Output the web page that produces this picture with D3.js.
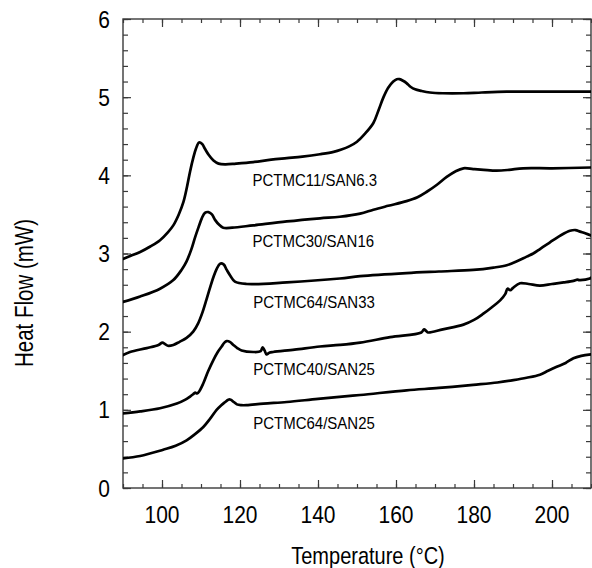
<!DOCTYPE html>
<html>
<head>
<meta charset="utf-8">
<script src="https://cdn.jsdelivr.net/npm/d3@7"></script>
<style>
  html, body { margin: 0; padding: 0; background: #fff; }
  svg { display: block; }
  text { font-family: "Liberation Sans", Arial, Helvetica, sans-serif; fill: #000; }
</style>
</head>
<body>
<svg id="chart" width="592" height="568"></svg>
<script>
// DSC heating traces: temperature (°C) and heat flow (mW), offset vertically per blend
const tA = [90, 92, 94.4, 97, 99.5, 101.5, 102.9, 104.3, 105.5, 106.4, 107.2, 108, 108.7, 109.5, 110.3, 111, 112, 113.2, 114.5, 116.2, 119, 123.4, 128, 132, 136, 140.5, 144, 146, 148, 150, 152, 154.2, 155.5, 156.8, 158, 159.3, 160.2, 160.9, 161.8, 162.7, 163.8, 164.9, 166.5, 168.7, 172, 177.3, 182, 188.4, 195, 202, 209.7, 210];
const hfA = [2.93, 2.97, 3.02, 3.09, 3.17, 3.27, 3.36, 3.50, 3.66, 3.85, 4.05, 4.22, 4.34, 4.42, 4.40, 4.34, 4.26, 4.19, 4.15, 4.14, 4.15, 4.17, 4.20, 4.22, 4.24, 4.27, 4.30, 4.33, 4.37, 4.43, 4.53, 4.67, 4.83, 5.00, 5.12, 5.20, 5.23, 5.23, 5.21, 5.18, 5.13, 5.10, 5.08, 5.06, 5.05, 5.05, 5.06, 5.07, 5.07, 5.07, 5.07, 5.07];

const tB = [90, 94.4, 99.5, 102.9, 105, 106.3, 107.5, 108.5, 109.4, 110.2, 111, 111.9, 112.8, 113.6, 114.6, 115.7, 118, 123.4, 132, 140.5, 145.6, 150.8, 154.2, 158, 162.7, 165.5, 167.9, 170.5, 173, 175.2, 177.3, 179.8, 182.5, 185.8, 189, 192.6, 200, 210];
const hfB = [2.38, 2.45, 2.55, 2.66, 2.79, 2.90, 3.05, 3.21, 3.34, 3.45, 3.52, 3.53, 3.50, 3.43, 3.37, 3.33, 3.33, 3.36, 3.41, 3.45, 3.47, 3.51, 3.56, 3.61, 3.67, 3.72, 3.79, 3.88, 3.98, 4.05, 4.09, 4.08, 4.07, 4.06, 4.07, 4.09, 4.09, 4.10];

const tC = [90, 91.8, 96.1, 99.1, 100.1, 100.8, 101.5, 102.9, 104.5, 106.3, 108, 109.3, 110.4, 111.4, 112.3, 113.2, 114, 114.9, 115.8, 116.6, 117.6, 118.7, 121.7, 132, 145.6, 150.8, 162.7, 171, 179.8, 185, 188.4, 191, 193.5, 195.2, 197, 198.8, 200.3, 202.5, 204.6, 206, 207.2, 208.5, 210];
const hfC = [1.70, 1.74, 1.79, 1.83, 1.86, 1.84, 1.82, 1.83, 1.87, 1.92, 2.00, 2.11, 2.25, 2.41, 2.56, 2.70, 2.80, 2.87, 2.86, 2.79, 2.71, 2.64, 2.61, 2.63, 2.68, 2.71, 2.75, 2.77, 2.79, 2.82, 2.85, 2.90, 2.96, 3.00, 3.06, 3.12, 3.17, 3.24, 3.29, 3.30, 3.28, 3.26, 3.23];

const tD = [90, 94.4, 99.5, 103.8, 106, 107.2, 108, 108.5, 109, 109.6, 110.6, 111.8, 113.2, 114.3, 115.3, 116, 116.6, 117.4, 118.3, 119.3, 120.4, 123.4, 125.3, 125.8, 126.3, 126.8, 127.5, 128.5, 134, 140.5, 145.6, 150.8, 158.5, 166.5, 167.2, 167.7, 168.2, 172, 177.3, 180, 182.4, 184.5, 186.7, 188, 188.6, 189.3, 190, 191.8, 194, 196.9, 200, 203, 205.5, 206.5, 207, 209.7, 210];
const hfD = [0.955, 0.98, 1.02, 1.08, 1.13, 1.17, 1.20, 1.22, 1.21, 1.24, 1.34, 1.49, 1.64, 1.74, 1.81, 1.86, 1.88, 1.87, 1.83, 1.79, 1.76, 1.74, 1.75, 1.80, 1.76, 1.71, 1.73, 1.74, 1.77, 1.81, 1.83, 1.86, 1.93, 1.99, 2.03, 2.01, 1.99, 2.03, 2.09, 2.15, 2.23, 2.31, 2.40, 2.48, 2.55, 2.53, 2.56, 2.62, 2.61, 2.59, 2.61, 2.63, 2.65, 2.665, 2.66, 2.68, 2.69];

const tE = [90, 94.4, 100.3, 103.5, 106.3, 108.5, 110.6, 112.4, 114, 115.2, 116.2, 117, 117.6, 118.4, 119.2, 120.3, 121.7, 126, 132, 140, 150.8, 162.7, 171, 179.8, 186, 190.1, 193.5, 196.9, 199, 201.2, 203.5, 205.5, 207.5, 210];
const hfE = [0.38, 0.41, 0.49, 0.54, 0.61, 0.69, 0.78, 0.89, 1.00, 1.06, 1.10, 1.13, 1.13, 1.10, 1.07, 1.06, 1.06, 1.08, 1.10, 1.14, 1.19, 1.25, 1.28, 1.32, 1.35, 1.38, 1.41, 1.45, 1.50, 1.55, 1.60, 1.66, 1.69, 1.71];

const seriesNames = ["PCTMC11/SAN6.3", "PCTMC30/SAN16", "PCTMC64/SAN33", "PCTMC40/SAN25", "PCTMC64/SAN25"];
const seriesT = [tA, tB, tC, tD, tE];
const seriesHF = [hfA, hfB, hfC, hfD, hfE];
// label anchor for each trace, in data units (temperature, heat flow)
const labelT = [123.2, 123.2, 123.4, 123.4, 123.4];
const labelHF = [3.86, 3.08, 2.30, 1.45, 0.76];

const xTicks = [100, 120, 140, 160, 180, 200];
const yTicks = [0, 1, 2, 3, 4, 5, 6];
const xMinor = d3.range(90, 210.1, 5);
const yMinor = d3.range(0, 6.01, 0.2);

const svg = d3.select("#chart");
const plotL = 123, plotR = 591, plotT = 19, plotB = 488;

const x = d3.scaleLinear().domain([90, 210]).range([plotL, plotR]);
const y = d3.scaleLinear().domain([0, 6]).range([plotB, plotT]);

const axisColor = "#3a3a3a";

// inward ticks on all four sides
function ticks(axisGen, transform, vals, size) {
  const g = svg.append("g").attr("transform", transform)
    .call(axisGen.tickValues(vals).tickSize(size).tickFormat(""));
  g.select(".domain").remove();
  g.selectAll(".tick line").attr("stroke", axisColor).attr("stroke-width", 1.2);
  return g;
}
ticks(d3.axisBottom(x), `translate(0,${plotB})`, xMinor, -4);
ticks(d3.axisBottom(x), `translate(0,${plotB})`, xTicks, -8);
ticks(d3.axisTop(x), `translate(0,${plotT})`, xMinor, -4);
ticks(d3.axisTop(x), `translate(0,${plotT})`, xTicks, -8);
ticks(d3.axisLeft(y), `translate(${plotL},0)`, yMinor, -5);
ticks(d3.axisLeft(y), `translate(${plotL},0)`, yTicks, -8);
ticks(d3.axisRight(y), `translate(${plotR},0)`, yMinor, -5);
ticks(d3.axisRight(y), `translate(${plotR},0)`, yTicks, -8);

// plot frame
svg.append("rect")
  .attr("x", plotL).attr("y", plotT)
  .attr("width", plotR - plotL).attr("height", plotB - plotT)
  .attr("fill", "none").attr("stroke", axisColor).attr("stroke-width", 1.4);

// tick labels
svg.append("g").selectAll("g").data(xTicks).join("g")
  .attr("transform", d => `translate(${x(d)},523) scale(1,1.1)`)
  .append("text").attr("text-anchor", "middle").attr("font-size", 21).text(d => d);

svg.append("g").selectAll("g").data(yTicks).join("g")
  .attr("transform", d => `translate(110,${y(d) + 8.5}) scale(1,1.1)`)
  .append("text").attr("text-anchor", "end").attr("font-size", 21).text(d => d);

// axis titles
svg.append("g").attr("transform", "translate(368,564) scale(1,1.22)")
  .append("text").attr("text-anchor", "middle").attr("font-size", 20).text("Temperature (°C)");
svg.append("g").attr("transform", "translate(33,293) rotate(-90) scale(1,1.22)")
  .append("text").attr("text-anchor", "middle").attr("font-size", 20.5).text("Heat Flow (mW)");

// traces
const line = d3.line().curve(d3.curveCatmullRom.alpha(0.5)).x(d => x(d[0])).y(d => y(d[1]));
svg.append("defs").append("clipPath").attr("id", "plotclip")
  .append("rect").attr("x", plotL).attr("y", plotT).attr("width", plotR - plotL).attr("height", plotB - plotT);

const traces = svg.append("g").attr("clip-path", "url(#plotclip)");
seriesT.forEach((ts, i) => {
  const pts = ts.map((t, j) => [t, seriesHF[i][j]]);
  traces.append("path").datum(pts)
    .attr("d", line)
    .attr("fill", "none").attr("stroke", "#000")
    .attr("stroke-width", 2.7).attr("stroke-linejoin", "round").attr("stroke-linecap", "round");
});

// trace labels
svg.append("g").selectAll("g").data(seriesNames).join("g")
  .attr("transform", (d, i) => `translate(${x(labelT[i])},${y(labelHF[i])}) scale(1,1.09)`)
  .append("text").attr("font-size", 15).text(d => d);
</script>
</body>
</html>
